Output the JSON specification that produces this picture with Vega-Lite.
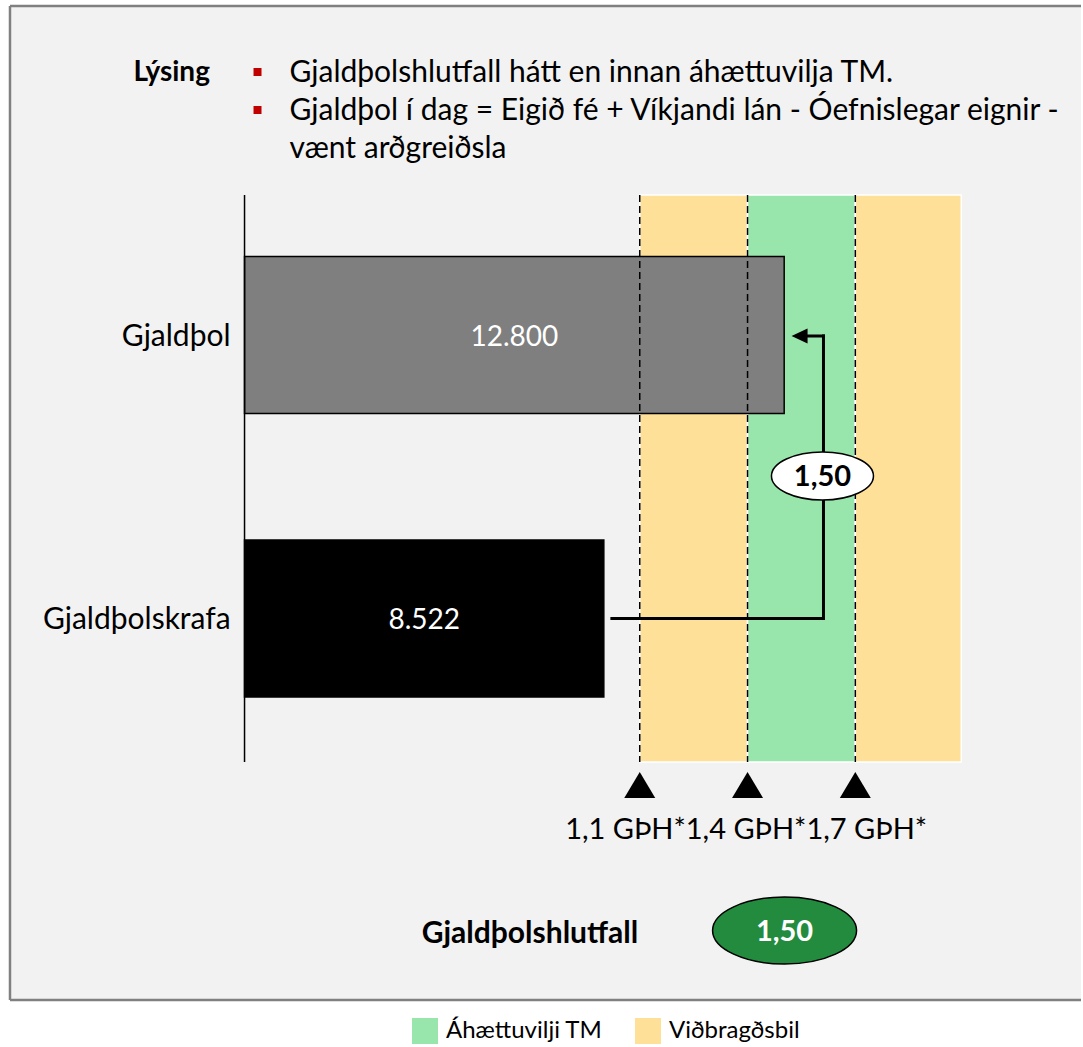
{
  "$schema": "https://vega.github.io/schema/vega-lite/v6.json",
  "width": 1083,
  "height": 1047,
  "autosize": {"type": "fit", "contains": "padding"},
  "padding": 0,
  "background": "white",
  "config": {"view": {"stroke": null}, "font": "Lato", "text": {"font": "Lato"}},
  "resolve": {"scale": {"x": "independent", "y": "independent"}},
  "layer": [
    {
      "data": {"values": [{}]},
      "mark": {"type": "rect", "fill": "#f2f2f2"},
      "encoding": {
        "x": {"datum": -5563, "type": "quantitative", "scale": {"domain": [-5800, 19840], "nice": false, "zero": false}, "axis": null},
        "x2": {"datum": 19840},
        "y": {"datum": 6, "type": "quantitative", "scale": {"domain": [0, 1047], "reverse": true, "nice": false, "zero": false}, "axis": null},
        "y2": {"datum": 1000}
      }
    },
    {
      "data": {"values": [{}]},
      "mark": {"type": "rule", "color": "#808080", "strokeWidth": 2.5},
      "encoding": {
        "x": {"datum": -5563, "type": "quantitative", "scale": {"domain": [-5800, 19840], "nice": false, "zero": false}, "axis": null},
        "x2": {"datum": 19840},
        "y": {"datum": 6, "type": "quantitative", "scale": {"domain": [0, 1047], "reverse": true, "nice": false, "zero": false}, "axis": null}
      }
    },
    {
      "data": {"values": [{}]},
      "mark": {"type": "rule", "color": "#808080", "strokeWidth": 2.5},
      "encoding": {
        "x": {"datum": -5563, "type": "quantitative", "scale": {"domain": [-5800, 19840], "nice": false, "zero": false}, "axis": null},
        "x2": {"datum": 19840},
        "y": {"datum": 1000, "type": "quantitative", "scale": {"domain": [0, 1047], "reverse": true, "nice": false, "zero": false}, "axis": null}
      }
    },
    {
      "data": {"values": [{}]},
      "mark": {"type": "rule", "color": "#808080", "strokeWidth": 2.5},
      "encoding": {
        "x": {"datum": -5563, "type": "quantitative", "scale": {"domain": [-5800, 19840], "nice": false, "zero": false}, "axis": null},
        "y": {"datum": 6, "type": "quantitative", "scale": {"domain": [0, 1047], "reverse": true, "nice": false, "zero": false}, "axis": null},
        "y2": {"datum": 1000}
      }
    },
    {
      "data": {"values": [
        {"kind": "Viðbragðsbil", "from": 9374, "to": 11931},
        {"kind": "Áhættuvilji TM", "from": 11931, "to": 14487},
        {"kind": "Viðbragðsbil", "from": 14487, "to": 17000}
      ]},
      "mark": {"type": "rect", "stroke": "white", "strokeWidth": 1.5},
      "encoding": {
        "x": {"field": "from", "type": "quantitative", "scale": {"domain": [-5800, 19840], "nice": false, "zero": false}, "axis": null},
        "x2": {"field": "to"},
        "y": {"datum": 195, "type": "quantitative", "scale": {"domain": [0, 1047], "reverse": true, "nice": false, "zero": false}, "axis": null},
        "y2": {"datum": 762},
        "color": {
          "field": "kind", "type": "nominal",
          "scale": {"domain": ["Áhættuvilji TM", "Viðbragðsbil"], "range": ["#98e6ab", "#ffe099"]},
          "legend": {
            "orient": "none", "legendX": 412, "legendY": 1018, "direction": "horizontal",
            "title": null, "symbolType": "square", "symbolSize": 676, "symbolStrokeWidth": 0,
            "symbolOpacity": 1, "labelFontSize": 24, "labelFont": "Lato", "labelColor": "#000000",
            "labelOffset": 8, "columnPadding": 32, "padding": 0, "labelLimit": 400
          }
        }
      }
    },
    {
      "data": {"values": [
        {"category": "Gjaldþol", "value": 12800},
        {"category": "Gjaldþolskrafa", "value": 8522}
      ]},
      "mark": {"type": "bar", "stroke": "#000000", "strokeWidth": 1.5},
      "encoding": {
        "x": {"field": "value", "type": "quantitative", "scale": {"domain": [-5800, 19840], "nice": false, "zero": false}, "axis": null},
        "x2": {"datum": 0},
        "y": {"field": "category", "type": "nominal", "scale": {"type": "band", "domain": ["Gjaldþol", "Gjaldþolskrafa"], "range": [195, 762], "paddingInner": 0.4462, "paddingOuter": 0.2231, "align": 0.486, "round": false}, "axis": null},
        "fill": {"field": "category", "type": "nominal", "scale": {"domain": ["Gjaldþol", "Gjaldþolskrafa"], "range": ["#7f7f7f", "#000000"]}, "legend": null}
      }
    },
    {
      "data": {"values": [
        {"label": "1,1 GÞH*", "value": 9374},
        {"label": "1,4 GÞH*", "value": 11931},
        {"label": "1,7 GÞH*", "value": 14487}
      ]},
      "mark": {"type": "rule", "color": "#000000", "strokeWidth": 1.5, "strokeDash": [7, 4]},
      "encoding": {
        "x": {"field": "value", "type": "quantitative", "scale": {"domain": [-5800, 19840], "nice": false, "zero": false}, "axis": null},
        "y": {"datum": 195, "type": "quantitative", "scale": {"domain": [0, 1047], "reverse": true, "nice": false, "zero": false}, "axis": null},
        "y2": {"datum": 762}
      }
    },
    {
      "data": {"values": [{}]},
      "mark": {"type": "rule", "color": "#000000", "strokeWidth": 1.5},
      "encoding": {
        "x": {"datum": 0, "type": "quantitative", "scale": {"domain": [-5800, 19840], "nice": false, "zero": false}, "axis": null},
        "y": {"datum": 195, "type": "quantitative", "scale": {"domain": [0, 1047], "reverse": true, "nice": false, "zero": false}, "axis": null},
        "y2": {"datum": 762}
      }
    },
    {
      "data": {"values": [
        {"category": "Gjaldþol", "value": 12800},
        {"category": "Gjaldþolskrafa", "value": 8522}
      ]},
      "mark": {"type": "text", "align": "right", "baseline": "alphabetic", "dy": 11, "fontSize": 30, "color": "#000000"},
      "encoding": {
        "x": {"datum": -331, "type": "quantitative", "scale": {"domain": [-5800, 19840], "nice": false, "zero": false}, "axis": null},
        "y": {"field": "category", "type": "nominal", "scale": {"type": "band", "domain": ["Gjaldþol", "Gjaldþolskrafa"], "range": [195, 762], "paddingInner": 0.4462, "paddingOuter": 0.2231, "align": 0.486, "round": false}, "axis": null},
        "text": {"field": "category"}
      }
    },
    {
      "data": {"values": [
        {"category": "Gjaldþol", "value": 12800, "text": "12.800"},
        {"category": "Gjaldþolskrafa", "value": 8522, "text": "8.522"}
      ]},
      "mark": {"type": "text", "align": "center", "baseline": "alphabetic", "dy": 11, "fontSize": 28, "color": "#ffffff"},
      "encoding": {
        "x": {"field": "value", "type": "quantitative", "scale": {"domain": [-11600, 39680], "nice": false, "zero": false}, "axis": null},
        "y": {"field": "category", "type": "nominal", "scale": {"type": "band", "domain": ["Gjaldþol", "Gjaldþolskrafa"], "range": [195, 762], "paddingInner": 0.4462, "paddingOuter": 0.2231, "align": 0.486, "round": false}, "axis": null},
        "text": {"field": "text"}
      }
    },
    {
      "data": {"values": [{}]},
      "mark": {"type": "rule", "color": "#000000", "strokeWidth": 3, "strokeCap": "square"},
      "encoding": {
        "x": {"datum": 8713, "type": "quantitative", "scale": {"domain": [-5800, 19840], "nice": false, "zero": false}, "axis": null},
        "x2": {"datum": 13732},
        "y": {"datum": 618.5, "type": "quantitative", "scale": {"domain": [0, 1047], "reverse": true, "nice": false, "zero": false}, "axis": null}
      }
    },
    {
      "data": {"values": [{}]},
      "mark": {"type": "rule", "color": "#000000", "strokeWidth": 3, "strokeCap": "square"},
      "encoding": {
        "x": {"datum": 13732, "type": "quantitative", "scale": {"domain": [-5800, 19840], "nice": false, "zero": false}, "axis": null},
        "y": {"datum": 618.5, "type": "quantitative", "scale": {"domain": [0, 1047], "reverse": true, "nice": false, "zero": false}, "axis": null},
        "y2": {"datum": 336}
      }
    },
    {
      "data": {"values": [{}]},
      "mark": {"type": "rule", "color": "#000000", "strokeWidth": 3, "strokeCap": "square"},
      "encoding": {
        "x": {"datum": 13306, "type": "quantitative", "scale": {"domain": [-5800, 19840], "nice": false, "zero": false}, "axis": null},
        "x2": {"datum": 13732},
        "y": {"datum": 336, "type": "quantitative", "scale": {"domain": [0, 1047], "reverse": true, "nice": false, "zero": false}, "axis": null}
      }
    },
    {
      "data": {"values": [{}]},
      "mark": {"type": "point", "shape": "M -1 0 L 1 -0.94 L 1 0.94 Z", "size": 256, "filled": true, "fill": "#000000", "opacity": 1, "strokeWidth": 0},
      "encoding": {
        "x": {"datum": 13164, "type": "quantitative", "scale": {"domain": [-5800, 19840], "nice": false, "zero": false}, "axis": null},
        "y": {"datum": 336, "type": "quantitative", "scale": {"domain": [0, 1047], "reverse": true, "nice": false, "zero": false}, "axis": null}
      }
    },
    {
      "data": {"values": [{}]},
      "mark": {"type": "point", "shape": "M -1 0 A 1 0.47 0 1 0 1 0 A 1 0.47 0 1 0 -1 0 Z", "size": 10404, "filled": true, "fill": "#ffffff", "stroke": "#000000", "strokeWidth": 1.5, "opacity": 1},
      "encoding": {
        "x": {"datum": 13708, "type": "quantitative", "scale": {"domain": [-5800, 19840], "nice": false, "zero": false}, "axis": null},
        "y": {"datum": 476, "type": "quantitative", "scale": {"domain": [0, 1047], "reverse": true, "nice": false, "zero": false}, "axis": null}
      }
    },
    {
      "data": {"values": [{}]},
      "mark": {"type": "text", "text": "1,50", "align": "center", "baseline": "alphabetic", "fontSize": 29, "fontWeight": "bold", "color": "#000000"},
      "encoding": {
        "x": {"datum": 13708, "type": "quantitative", "scale": {"domain": [-5800, 19840], "nice": false, "zero": false}, "axis": null},
        "y": {"datum": 486, "type": "quantitative", "scale": {"domain": [0, 1047], "reverse": true, "nice": false, "zero": false}, "axis": null}
      }
    },
    {
      "data": {"values": [
        {"label": "1,1 GÞH*", "value": 9374},
        {"label": "1,4 GÞH*", "value": 11931},
        {"label": "1,7 GÞH*", "value": 14487}
      ]},
      "mark": {"type": "point", "shape": "M -1 0.84 L 1 0.84 L 0 -0.84 Z", "size": 961, "filled": true, "fill": "#000000", "opacity": 1, "strokeWidth": 0},
      "encoding": {
        "x": {"field": "value", "type": "quantitative", "scale": {"domain": [-5800, 19840], "nice": false, "zero": false}, "axis": null},
        "y": {"datum": 785, "type": "quantitative", "scale": {"domain": [0, 1047], "reverse": true, "nice": false, "zero": false}, "axis": null}
      }
    },
    {
      "data": {"values": [{}]},
      "mark": {"type": "text", "text": "1,1 GÞH*1,4 GÞH*1,7 GÞH*", "align": "center", "baseline": "alphabetic", "fontSize": 29, "color": "#000000"},
      "encoding": {
        "x": {"datum": 11897, "type": "quantitative", "scale": {"domain": [-5800, 19840], "nice": false, "zero": false}, "axis": null},
        "y": {"datum": 839, "type": "quantitative", "scale": {"domain": [0, 1047], "reverse": true, "nice": false, "zero": false}, "axis": null}
      }
    },
    {
      "data": {"values": [{}]},
      "mark": {"type": "text", "text": "Gjaldþolshlutfall", "align": "center", "baseline": "alphabetic", "fontSize": 30, "fontWeight": "bold", "color": "#000000"},
      "encoding": {
        "x": {"datum": 6771, "type": "quantitative", "scale": {"domain": [-5800, 19840], "nice": false, "zero": false}, "axis": null},
        "y": {"datum": 943, "type": "quantitative", "scale": {"domain": [0, 1047], "reverse": true, "nice": false, "zero": false}, "axis": null}
      }
    },
    {
      "data": {"values": [{}]},
      "mark": {"type": "point", "shape": "M -1 0 A 1 0.465 0 1 0 1 0 A 1 0.465 0 1 0 -1 0 Z", "size": 20736, "filled": true, "fill": "#238b3e", "stroke": "#000000", "strokeWidth": 1.5, "opacity": 1},
      "encoding": {
        "x": {"datum": 12809, "type": "quantitative", "scale": {"domain": [-5800, 19840], "nice": false, "zero": false}, "axis": null},
        "y": {"datum": 930.5, "type": "quantitative", "scale": {"domain": [0, 1047], "reverse": true, "nice": false, "zero": false}, "axis": null}
      }
    },
    {
      "data": {"values": [{}]},
      "mark": {"type": "text", "text": "1,50", "align": "center", "baseline": "alphabetic", "fontSize": 29, "fontWeight": "bold", "color": "#ffffff"},
      "encoding": {
        "x": {"datum": 12809, "type": "quantitative", "scale": {"domain": [-5800, 19840], "nice": false, "zero": false}, "axis": null},
        "y": {"datum": 941, "type": "quantitative", "scale": {"domain": [0, 1047], "reverse": true, "nice": false, "zero": false}, "axis": null}
      }
    },
    {
      "data": {"values": [{}]},
      "mark": {"type": "text", "text": "Lýsing", "align": "center", "baseline": "alphabetic", "fontSize": 28, "fontWeight": "bold", "color": "#000000"},
      "encoding": {
        "x": {"datum": -1728, "type": "quantitative", "scale": {"domain": [-5800, 19840], "nice": false, "zero": false}, "axis": null},
        "y": {"datum": 81, "type": "quantitative", "scale": {"domain": [0, 1047], "reverse": true, "nice": false, "zero": false}, "axis": null}
      }
    },
    {
      "data": {"values": [{}]},
      "mark": {"type": "point", "shape": "square", "size": 64, "filled": true, "fill": "#c00000", "opacity": 1, "strokeWidth": 0},
      "encoding": {
        "x": {"datum": 308, "type": "quantitative", "scale": {"domain": [-5800, 19840], "nice": false, "zero": false}, "axis": null},
        "y": {"datum": 72, "type": "quantitative", "scale": {"domain": [0, 1047], "reverse": true, "nice": false, "zero": false}, "axis": null}
      }
    },
    {
      "data": {"values": [{}]},
      "mark": {"type": "point", "shape": "square", "size": 64, "filled": true, "fill": "#c00000", "opacity": 1, "strokeWidth": 0},
      "encoding": {
        "x": {"datum": 308, "type": "quantitative", "scale": {"domain": [-5800, 19840], "nice": false, "zero": false}, "axis": null},
        "y": {"datum": 110, "type": "quantitative", "scale": {"domain": [0, 1047], "reverse": true, "nice": false, "zero": false}, "axis": null}
      }
    },
    {
      "data": {"values": [{}]},
      "mark": {"type": "text", "text": ["Gjaldþolshlutfall hátt en innan áhættuvilja TM.", "Gjaldþol í dag = Eigið fé + Víkjandi lán - Óefnislegar eignir -", "vænt arðgreiðsla"], "align": "left", "baseline": "alphabetic", "fontSize": 30, "lineHeight": 38, "color": "#000000"},
      "encoding": {
        "x": {"datum": 1066, "type": "quantitative", "scale": {"domain": [-5800, 19840], "nice": false, "zero": false}, "axis": null},
        "y": {"datum": 82, "type": "quantitative", "scale": {"domain": [0, 1047], "reverse": true, "nice": false, "zero": false}, "axis": null}
      }
    }
  ]
}
